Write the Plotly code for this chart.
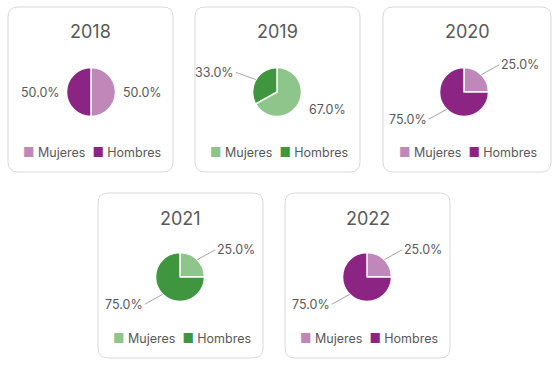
import math
import plotly.graph_objects as go

W, H = 556, 365

years = ["2018", "2019", "2020", "2021", "2022"]
labels = ["Mujeres", "Hombres"]
mujeres = [50.0, 67.0, 25.0, 25.0, 25.0]
hombres = [50.0, 33.0, 75.0, 75.0, 75.0]
palettes = ["purple", "green", "purple", "green", "purple"]

COLORS = {
    "purple": ["#BF88B9", "#8C2483"],
    "green": ["#8DC58A", "#3F963F"],
}

# ---- layout / style (pixels) ----
cards = [
    (8, 7, 173, 172),
    (195, 7, 360, 172),
    (383, 7, 551, 172),
    (98, 193, 263, 358),
    (285, 193, 450, 358),
]
pie_centers = [(91, 92), (277, 92), (464, 92), (180, 277), (367, 277)]
R = 24.5
# whether each data label uses a leader line (style)
leader = [[False, False], [False, True], [True, True], [True, True], [True, True]]

TXT = "#595959"
LINE = "#A6A6A6"
FONT = "Inter, Roboto, Arial, sans-serif"
NB = "\u00a0"


def px(x):
    return x / W


def py(y):
    return 1 - y / H


def rounded_rect(l, t, r, b, rad=10):
    return (
        f"M {px(l+rad)},{py(t)} L {px(r-rad)},{py(t)} "
        f"Q {px(r)},{py(t)} {px(r)},{py(t+rad)} "
        f"L {px(r)},{py(b-rad)} Q {px(r)},{py(b)} {px(r-rad)},{py(b)} "
        f"L {px(l+rad)},{py(b)} Q {px(l)},{py(b)} {px(l)},{py(b-rad)} "
        f"L {px(l)},{py(t+rad)} Q {px(l)},{py(t)} {px(l+rad)},{py(t)} Z"
    )


fig = go.Figure()
shapes = []
annotations = []

for i, yr in enumerate(years):
    l, t, r, b = cards[i]
    cx, cy = pie_centers[i]
    cols = COLORS[palettes[i]]
    vals = [mujeres[i], hombres[i]]
    fig.add_trace(
        go.Pie(
            labels=labels,
            values=vals,
            sort=False,
            direction="clockwise",
            rotation=0,
            marker=dict(colors=cols, line=dict(color="white", width=1.5)),
            textinfo="none",
            domain=dict(x=[px(cx - R), px(cx + R)], y=[py(cy + R), py(cy - R)]),
            showlegend=False,
            hoverinfo="label+percent",
            name=yr,
        )
    )
    shapes.append(
        dict(
            type="path",
            xref="paper",
            yref="paper",
            path=rounded_rect(l, t, r, b),
            line=dict(color="#D9D9D9", width=1),
            fillcolor="white",
            layer="below",
        )
    )
    # title
    annotations.append(
        dict(
            text=yr,
            x=px((l + r) / 2),
            y=py(t + 25),
            xref="paper",
            yref="paper",
            showarrow=False,
            font=dict(size=18, color=TXT, family=FONT),
            xanchor="center",
            yanchor="middle",
        )
    )
    # data labels, positioned from the slice mid-angles
    total = sum(vals)
    cum = 0.0
    for j, v in enumerate(vals):
        frac = v / total
        theta = (cum + frac / 2) * 2 * math.pi
        cum += frac
        dx, dy = math.sin(theta), -math.cos(theta)  # screen coords (y down)
        ex, ey = cx + R * dx, cy + R * dy
        side = 1 if dx >= 0 else -1
        if leader[i][j]:
            tx = cx + (R + 14) * dx + 8 * side
            ty = cy + (R + 14) * dy
        else:
            g = 5 + 10 * abs(dy)
            tx = cx + (R + g) * dx
            ty = cy + (R + g) * dy
        annotations.append(
            dict(
                text=f"{frac*100:.1f}%",
                x=px(ex),
                y=py(ey),
                xref="paper",
                yref="paper",
                ax=tx - ex,
                ay=ty - ey,
                axref="pixel",
                ayref="pixel",
                showarrow=True,
                arrowhead=0,
                arrowwidth=1,
                arrowcolor=LINE if leader[i][j] else "rgba(0,0,0,0)",
                standoff=0,
                startstandoff=0,
                xanchor="left" if side > 0 else "right",
                yanchor="middle",
                font=dict(size=12.5, color=TXT, family=FONT),
            )
        )
    # legend
    leg_text = (
        f"<span style='color:{cols[0]}'>■</span>{NB}{labels[0]}{NB*2}"
        f"<span style='color:{cols[1]}'>■</span>{NB}{labels[1]}"
    )
    annotations.append(
        dict(
            text=leg_text,
            x=px((l + r) / 2 + 1),
            y=py(b - 20),
            xref="paper",
            yref="paper",
            showarrow=False,
            font=dict(size=12.5, color=TXT, family=FONT),
            xanchor="center",
            yanchor="middle",
        )
    )

fig.update_layout(
    width=W,
    height=H,
    margin=dict(l=0, r=0, t=0, b=0),
    paper_bgcolor="white",
    plot_bgcolor="white",
    showlegend=False,
    shapes=shapes,
    annotations=annotations,
)

fig.write_html(
    "out.html",
    config={"displayModeBar": False},
    post_script="document.body.style.margin='0';document.body.style.overflow='hidden';",
)
